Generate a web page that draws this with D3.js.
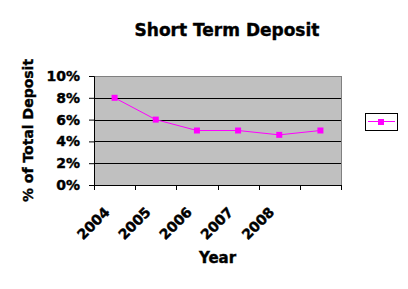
<!DOCTYPE html>
<html lang="en">
<head>
<meta charset="utf-8">
<title>Short Term Deposit</title>
<script src="https://cdn.jsdelivr.net/npm/d3@7"></script>
<style>
  body { margin: 0; background: #fff; }
  svg { display: block; }
  text { font-family: "DejaVu Sans", sans-serif; font-weight: bold; fill: #000; stroke: #000; stroke-width: 0.4px; }
</style>
</head>
<body>
<script>
// data
var years = ["2004", "2005", "2006", "2007", "2008", ""];
var deposit = [8, 6, 5, 5, 4.6, 5];
var yTicks = [0, 2, 4, 6, 8, 10];

var w = 408, h = 289;
var plot = { left: 94, right: 341, top: 76, bottom: 185 };

var svg = d3.select("body").append("svg")
    .attr("width", w)
    .attr("height", h);

var x = d3.scaleBand()
    .domain(d3.range(years.length))
    .range([plot.left, plot.right]);

var y = d3.scaleLinear()
    .domain([0, 10])
    .range([plot.bottom, plot.top]);

// plot background
svg.append("rect")
    .attr("x", plot.left)
    .attr("y", plot.top)
    .attr("width", plot.right - plot.left)
    .attr("height", plot.bottom - plot.top)
    .attr("fill", "#c0c0c0")
    .attr("stroke", "#808080")
    .attr("stroke-width", 1)
    .attr("shape-rendering", "crispEdges");

// gridlines
svg.selectAll("line.grid")
    .data(yTicks.filter(function(d) { return d > 0 && d < 10; }))
    .enter().append("line")
    .attr("class", "grid")
    .attr("x1", plot.left)
    .attr("x2", plot.right)
    .attr("y1", function(d) { return Math.round(y(d)) + 0.5; })
    .attr("y2", function(d) { return Math.round(y(d)) + 0.5; })
    .attr("stroke", "#000");

// y axis
var yAxis = svg.append("g")
    .attr("transform", "translate(" + plot.left + ",0)")
    .call(d3.axisLeft(y).tickValues(yTicks).tickSize(5).tickPadding(9)
        .tickFormat(function(d) { return d + "%"; }));
yAxis.select(".domain").attr("stroke", "#000");
yAxis.selectAll("line").attr("stroke", "#000");
yAxis.selectAll("text")
    .style("font-size", "14px")
    .style("font-family", "DejaVu Sans")
    .style("font-weight", "bold");

// x axis (ticks at band edges)
var xg = svg.append("g")
    .attr("transform", "translate(0," + plot.bottom + ")");
xg.append("line")
    .attr("x1", plot.left).attr("x2", plot.right)
    .attr("y1", 0.5).attr("y2", 0.5)
    .attr("stroke", "#000");
xg.selectAll("line.tick")
    .data(d3.range(years.length + 1))
    .enter().append("line")
    .attr("class", "tick")
    .attr("x1", function(i) { return Math.round(plot.left + i * x.step()) + 0.5; })
    .attr("x2", function(i) { return Math.round(plot.left + i * x.step()) + 0.5; })
    .attr("y1", 0)
    .attr("y2", 5)
    .attr("stroke", "#000");
xg.selectAll("text")
    .data(years)
    .enter().append("text")
    .attr("text-anchor", "end")
    .attr("transform", function(d, i) {
        return "translate(" + (x(i) + x.bandwidth() / 2 - 4) + ",28) rotate(-45)";
    })
    .style("font-size", "14px")
    .text(function(d) { return d; });

// line + markers
var line = d3.line()
    .x(function(d, i) { return x(i) + x.bandwidth() / 2; })
    .y(function(d) { return y(d); });

svg.append("path")
    .datum(deposit)
    .attr("d", line)
    .attr("fill", "none")
    .attr("stroke", "#ff00ff")
    .attr("stroke-width", 1);

svg.selectAll("rect.marker")
    .data(deposit)
    .enter().append("rect")
    .attr("class", "marker")
    .attr("x", function(d, i) { return x(i) + x.bandwidth() / 2 - 3; })
    .attr("y", function(d) { return y(d) - 3; })
    .attr("width", 6)
    .attr("height", 6)
    .attr("fill", "#ff00ff");

// titles
svg.append("text")
    .attr("x", 227)
    .attr("y", 36)
    .attr("text-anchor", "middle")
    .style("font-size", "17px")
    .text("Short Term Deposit");

svg.append("text")
    .attr("x", (plot.left + plot.right) / 2)
    .attr("y", 263)
    .attr("text-anchor", "middle")
    .style("font-size", "15px")
    .text("Year");

svg.append("text")
    .attr("transform", "translate(33," + (plot.top + plot.bottom) / 2 + ") rotate(-90)")
    .attr("text-anchor", "middle")
    .style("font-size", "14px")
    .text("% of Total Deposit");

// legend
var lg = svg.append("g").attr("transform", "translate(365,113)");
lg.append("rect")
    .attr("x", 0.5).attr("y", 0.5)
    .attr("width", 32).attr("height", 17)
    .attr("fill", "#fff")
    .attr("stroke", "#000");
lg.append("line")
    .attr("x1", 3).attr("x2", 30)
    .attr("y1", 8.5).attr("y2", 8.5)
    .attr("stroke", "#ff00ff");
lg.append("rect")
    .attr("x", 13).attr("y", 6)
    .attr("width", 6).attr("height", 6)
    .attr("fill", "#ff00ff");
</script>
</body>
</html>
